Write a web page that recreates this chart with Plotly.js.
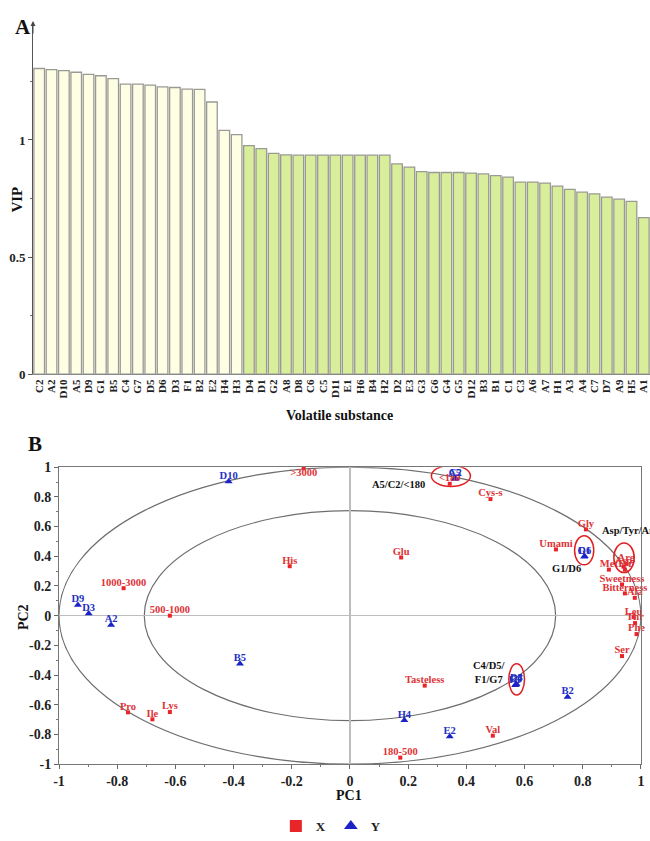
<!DOCTYPE html>
<html><head><meta charset="utf-8">
<script src="https://cdn.plot.ly/plotly-3.0.1.min.js"></script>
<style>html,body{margin:0;padding:0;background:#fff}#chart{width:650px;height:841px}</style>
</head><body><div id="chart"></div>
<script>
// ---- Panel A: VIP values ----
const substances = ['C2','A2','D10','A5','D9','G1','B5','C4','G7','D5','D6','D3','F1','B2','E2','H4','H3',
  'D4','D1','G2','A8','D8','C6','C5','D11','E1','H6','B4','H2','D2','E3','G3','G6','G4','G5','D12','B3','B1',
  'C1','C3','A6','A7','H1','A3','A4','C7','D7','A9','H5','A1'];
const vip = [1.305,1.300,1.296,1.289,1.280,1.274,1.262,1.238,1.238,1.234,1.227,1.224,1.217,1.216,1.162,1.041,1.023,
  0.976,0.963,0.943,0.936,0.935,0.935,0.935,0.935,0.935,0.935,0.935,0.935,0.898,0.884,0.865,0.861,0.861,0.861,0.858,0.855,0.848,
  0.841,0.820,0.820,0.816,0.803,0.789,0.777,0.770,0.756,0.747,0.738,0.668];
const vipTicks = [0, 0.5, 1];
const vipTickLabels = ['0', '0.5', '1'];

// ---- Panel B: PLS loadings ----
const xVarNames = ['>3000','His','1000-3000','500-1000','Pro','Ile','Lys','Glu','<180','Cys-s','Tasteless','180-500','Val',
  'Umami','Gly','Met','Asp','Tyr','Arg','Sweetness','Bitterness','Ala','Leu','Thr','Phe','Ser'];
const xVarPC1 = [-0.159,-0.207,-0.778,-0.619,-0.763,-0.679,-0.619,0.176,0.343,0.483,0.257,0.173,0.491,
  0.708,0.811,0.890,0.940,0.945,0.950,0.935,0.945,0.979,0.975,0.980,0.985,0.935];
const xVarPC2 = [0.993,0.333,0.185,0.000,-0.651,-0.698,-0.649,0.392,0.888,0.785,-0.471,-0.956,-0.808,
  0.446,0.581,0.310,0.330,0.310,0.350,0.210,0.150,0.120,-0.010,-0.050,-0.124,-0.272];

const yVarNames = ['D10','D9','D3','A2','B5','A5','C2','G1','D6','C4','D5','F1','G7','H4','E2','B2'];
const yVarPC1 = [-0.417,-0.935,-0.898,-0.821,-0.378,0.360,0.362,0.805,0.807,0.570,0.572,0.568,0.571,0.187,0.343,0.748];
const yVarPC2 = [0.903,0.071,0.015,-0.063,-0.323,0.921,0.925,0.397,0.400,-0.465,-0.460,-0.468,-0.462,-0.705,-0.813,-0.548];

const pcTicks = [-1,-0.8,-0.6,-0.4,-0.2,0,0.2,0.4,0.6,0.8,1];
const pcTickLabels = ['-1','-0.8','-0.6','-0.4','-0.2','0','0.2','0.4','0.6','0.8','1'];
const circleRadii = [1, 0.707];

// ---- styling ----
const SERIF = 'Liberation Serif, Times New Roman, serif';
const RED = '#e8262a', RED_TXT = '#dd3337', BLUE = '#1a22c8', BLUE_TXT = '#2430c4';
const CREAM = '#fefee4', GREEN = '#d8ee9a';

const highlightEllipses = [
  {x: 0.347, y: 0.941, rx: 0.067, ry: 0.071},
  {x: 0.805, y: 0.440, rx: 0.033, ry: 0.098},
  {x: 0.942, y: 0.390, rx: 0.035, ry: 0.100},
  {x: 0.573, y: -0.429, rx: 0.027, ry: 0.105}
];
const groupNotes = [
  {text: 'A5/C2/<180', x: 0.166, y: 0.880, xanchor: 'center'},
  {text: 'Asp/Tyr/Arg', x: 0.860, y: 0.572, xanchor: 'left'},
  {text: 'G1/D6', x: 0.745, y: 0.318, xanchor: 'center'},
  {text: 'C4/D5/<br>F1/G7', x: 0.481, y: -0.380, xanchor: 'center'}
];

const traces = [
  {
    type: 'bar', x: substances, y: vip, xaxis: 'x', yaxis: 'y', showlegend: false,
    marker: {color: vip.map(v => v > 1 ? CREAM : GREEN), line: {color: '#9a9a94', width: 1.3}},
    hoverinfo: 'x+y'
  },
  {
    type: 'scatter', mode: 'markers', name: 'X', x: xVarPC1, y: xVarPC2, xaxis: 'x2', yaxis: 'y2',
    marker: {symbol: 'square', size: 4, color: RED}, cliponaxis: false
  },
  {
    type: 'scatter', mode: 'markers', name: 'Y', x: yVarPC1, y: yVarPC2, xaxis: 'x2', yaxis: 'y2',
    marker: {symbol: 'triangle-up', size: 7, color: BLUE}, cliponaxis: false
  },
  {
    type: 'scatter', mode: 'text', x: xVarPC1, y: xVarPC2, text: xVarNames, xaxis: 'x2', yaxis: 'y2',
    showlegend: false, hoverinfo: 'skip', cliponaxis: false,
    textposition: xVarNames.map(n => n === '>3000' ? 'bottom center' : 'top center'),
    textfont: {family: SERIF, size: 10.5, color: RED_TXT, weight: 'bold'}
  },
  {
    type: 'scatter', mode: 'text', x: yVarPC1, y: yVarPC2, text: yVarNames, xaxis: 'x2', yaxis: 'y2',
    showlegend: false, hoverinfo: 'skip', cliponaxis: false, textposition: 'top center',
    textfont: {family: SERIF, size: 10.5, color: BLUE_TXT, weight: 'bold'}
  }
];

const shapes = [];
circleRadii.forEach(r => shapes.push({type: 'circle', xref: 'x2', yref: 'y2', x0: -r, x1: r, y0: -r, y1: r,
  line: {color: '#6e6e6e', width: 1.2}, layer: 'below'}));
highlightEllipses.forEach(e => shapes.push({type: 'circle', xref: 'x2', yref: 'y2',
  x0: e.x - e.rx, x1: e.x + e.rx, y0: e.y - e.ry, y1: e.y + e.ry, line: {color: '#e02020', width: 1.5}}));

function paperText(text, x, y, size, angle) {
  return {text: text, xref: 'paper', yref: 'paper', x: x, y: y, xanchor: 'center', yanchor: 'middle',
    textangle: angle || 0, showarrow: false, font: {family: SERIF, size: size, color: '#111', weight: 'bold'}};
}
const annotations = [
  paperText('A', 0.035, 0.968, 21),
  paperText('B', 0.054, 0.471, 21),
  {text: '', xref: 'paper', yref: 'paper', x: 0.0508, y: 0.975, ax: 0, ay: 14, showarrow: true,
   arrowhead: 2, arrowsize: 1, arrowwidth: 1, arrowcolor: '#444'},
  paperText('VIP', 0.026, 0.762, 15, -90),
  paperText('Volatile substance', 0.523, 0.505, 14),
  paperText('PC1', 0.537, 0.052, 14),
  paperText('PC2', 0.036, 0.265, 14, -90)
];
groupNotes.forEach(g => annotations.push({text: g.text, xref: 'x2', yref: 'y2', x: g.x, y: g.y,
  xanchor: g.xanchor, yanchor: 'middle', showarrow: false,
  font: {family: SERIF, size: 10.5, color: '#111', weight: 'bold'}}));

const tickFont = {family: SERIF, size: 14, color: '#222', weight: 'bold'};
const layout = {
  width: 650, height: 841, margin: {l: 0, r: 0, t: 0, b: 0},
  paper_bgcolor: '#fff', plot_bgcolor: '#fff', bargap: 0.14,
  xaxis: {domain: [0.0508, 1], anchor: 'y', type: 'category', tickmode: 'linear', dtick: 1, tick0: 0,
    tickangle: -90, tickfont: {family: SERIF, size: 11, color: '#222', weight: 'bold'},
    showline: true, linecolor: '#888', linewidth: 1, ticks: '', showgrid: false, zeroline: false, fixedrange: true},
  yaxis: {domain: [0.554, 0.970], anchor: 'x', range: [0, 1.49], tickmode: 'array', tickvals: vipTicks,
    ticktext: vipTickLabels, tickfont: {family: SERIF, size: 13, color: '#222', weight: 'bold'},
    showline: true, linecolor: '#555', linewidth: 1,
    ticks: 'outside', ticklen: 4, tickcolor: '#555',
    minor: {dtick: 0.25, ticks: 'outside', ticklen: 2, tickcolor: '#777'},
    showgrid: false, zeroline: false, fixedrange: true},
  xaxis2: {domain: [0.0908, 0.986], anchor: 'y2', range: [-1, 1], tickmode: 'array', tickvals: pcTicks,
    ticktext: pcTickLabels, tickfont: tickFont, showline: true, mirror: true, linecolor: '#777', linewidth: 1,
    ticks: 'outside', ticklen: 4, tickcolor: '#666', minor: {dtick: 0.1, ticks: 'outside', ticklen: 2, tickcolor: '#777'},
    showgrid: false, zeroline: true, zerolinecolor: '#bdbdbd', zerolinewidth: 1.2, fixedrange: true},
  yaxis2: {domain: [0.0892, 0.4432], anchor: 'x2', range: [-1, 1], tickmode: 'array', tickvals: pcTicks,
    ticktext: pcTickLabels, tickfont: tickFont, showline: true, mirror: true, linecolor: '#777', linewidth: 1,
    ticks: 'outside', ticklen: 4, tickcolor: '#666', minor: {dtick: 0.1, ticks: 'outside', ticklen: 2, tickcolor: '#777'},
    showgrid: false, zeroline: true, zerolinecolor: '#bdbdbd', zerolinewidth: 1.2, fixedrange: true},
  legend: {orientation: 'h', x: 0.509, xanchor: 'center', y: 0.0155, yanchor: 'middle', itemsizing: 'constant',
    font: {family: SERIF, size: 13, color: '#222', weight: 'bold'}, bgcolor: 'rgba(0,0,0,0)', itemwidth: 30},
  shapes: shapes, annotations: annotations
};

Plotly.newPlot('chart', traces, layout, {displayModeBar: false, staticPlot: true});
</script>
</body></html>
